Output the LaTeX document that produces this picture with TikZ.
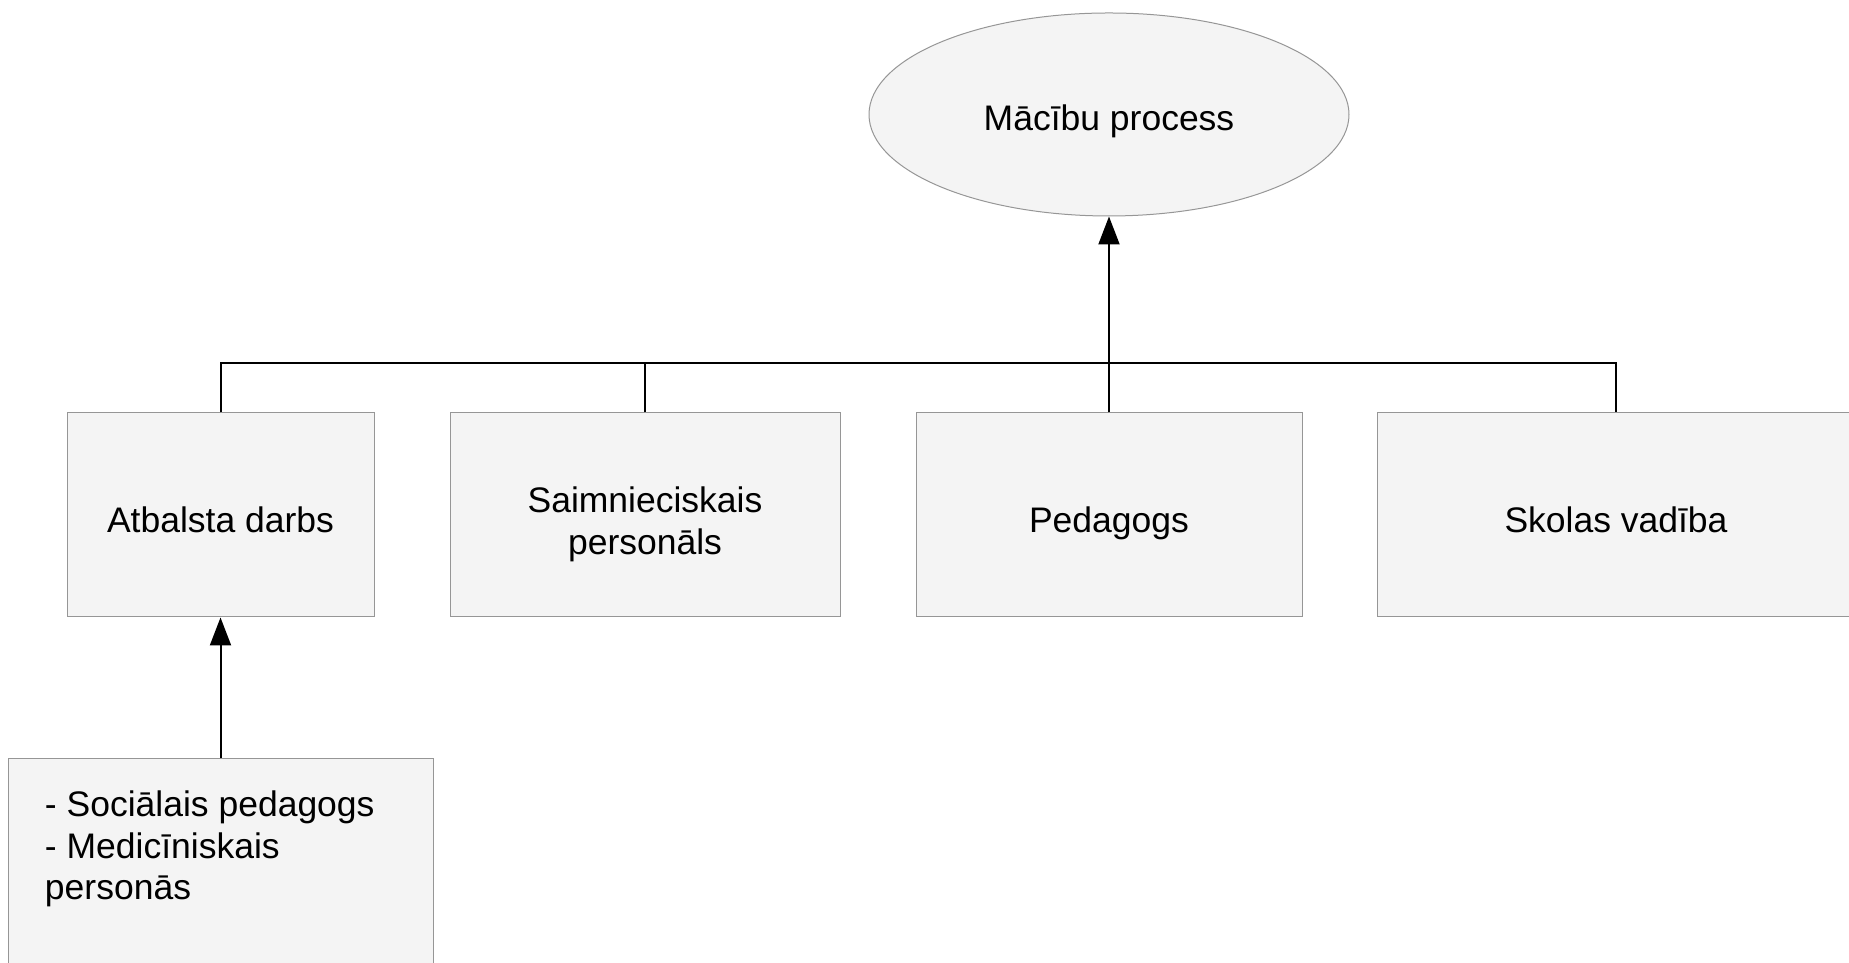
\documentclass[tikz,border=0pt]{standalone}
\usepackage{fontspec}
\setmainfont{Liberation Sans}
\usepackage{tikz}
\usetikzlibrary{arrows.meta, shapes, positioning}
\definecolor{boxfill}{RGB}{244, 244, 244}
\definecolor{boxline}{RGB}{150, 150, 150}
\tikzset{
    rolebox/.style = {draw=boxline, line width=0.5pt, fill=boxfill, rectangle, inner sep=0pt,
      node distance=0em, minimum height=102pt, align=center,
      font=\fontsize{17.75pt}{20.75pt}\selectfont},
    oneline/.style = {text height=17.7pt, text depth=0pt},
    goalnode/.style = {draw=boxline, line width=0.5pt, fill=boxfill, ellipse, inner sep=0pt,
      node distance=0em, minimum width=240pt, minimum height=101.5pt,
      font=\fontsize{17.75pt}{20.75pt}\selectfont},
    busline/.style = {black, line width=1pt},
    uparrow/.style = {black, line width=1pt, -{Triangle[length=14pt, width=10.5pt]}}
}

\begin{document}
\begin{tikzpicture}
    \useasboundingbox (0,0) rectangle (924.5pt,481.5pt);
    \clip (0,0) rectangle (924.5pt,481.5pt);

    \node [rolebox, oneline, name=atbalsts, minimum width=153.5pt] at (110.25pt,224pt) {Atbalsta darbs};
    \node [rolebox, text height=43pt, text depth=3.7pt, name=saimn, minimum width=195pt, right of=atbalsts, xshift=212.25pt] {Saimnieciskais\\personāls};
    \node [rolebox, oneline, name=pedagogs, minimum width=193pt, right of=saimn, xshift=232pt] {Pedagogs};
    \node [rolebox, oneline, name=vadiba, minimum width=239pt, right of=pedagogs, xshift=253.5pt] {Skolas vadība};

    \node [goalnode, text height=16pt, text depth=0pt, name=process, above of=pedagogs, yshift=200.25pt] {Mācību process};

    % atbalsta personals
    \node [rolebox, name=specialisti, minimum width=212.5pt, minimum height=103pt, below of=atbalsts, yshift=-173.5pt]
      {\parbox[c][103pt][t]{175.5pt}{\vspace{16pt}- Sociālais pedagogs\\- Medicīniskais\\personās}};

    \coordinate (bus) at (0,300pt);
    \draw [busline] (atbalsts.north) |- (vadiba.north |- bus) -- (vadiba.north);
    \draw [busline] (saimn.north) -- (saimn.north |- bus);
    \draw [uparrow] (pedagogs.north) -- (process.south);
    \draw [uparrow] (specialisti.north) -- (atbalsts.south);
\end{tikzpicture}
\end{document}
